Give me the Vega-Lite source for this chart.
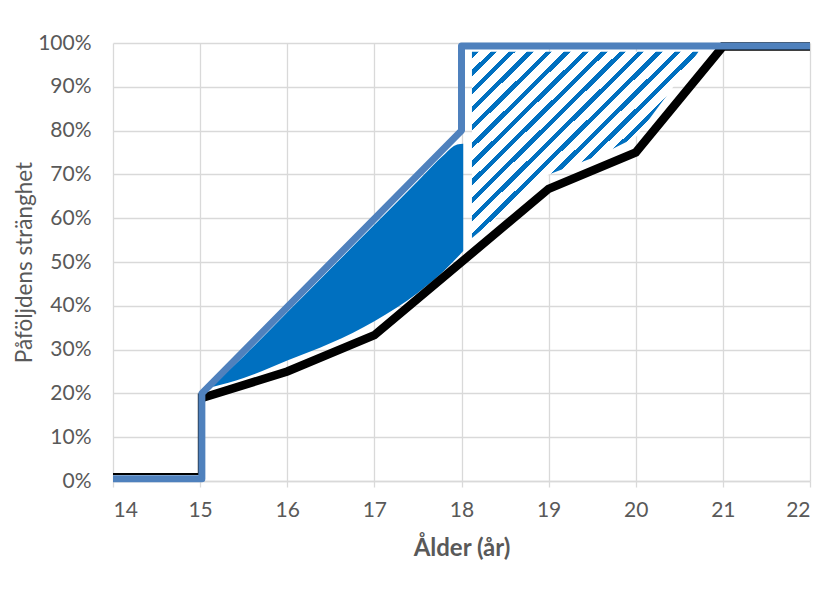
{
  "$schema": "https://vega.github.io/schema/vega-lite/v6.json",
  "width": 697,
  "height": 438,
  "autosize": {"type": "none"},
  "padding": {"left": 113, "top": 43, "right": 22, "bottom": 114},
  "background": "white",
  "config": {"view": {"stroke": null}},
  "datasets": {
    "solid": [
      {"x": 15.15, "lo": 0.215, "hi": 0.22},
      {"x": 15.5, "lo": 0.235, "hi": 0.285},
      {"x": 16, "lo": 0.275, "hi": 0.385},
      {"x": 16.5, "lo": 0.315, "hi": 0.485},
      {"x": 17, "lo": 0.365, "hi": 0.585},
      {"x": 17.5, "lo": 0.43, "hi": 0.685},
      {"x": 17.8, "lo": 0.48, "hi": 0.745},
      {"x": 17.95, "lo": 0.51, "hi": 0.768},
      {"x": 18.02, "lo": 0.525, "hi": 0.77}
    ],
    "hatch": [
      {"x": 18.12, "lo": 0.555, "hi": 0.98},
      {"x": 19.0, "lo": 0.70, "hi": 0.98},
      {"x": 19.6, "lo": 0.745, "hi": 0.98},
      {"x": 20.0, "lo": 0.785, "hi": 0.98},
      {"x": 20.45, "lo": 0.905, "hi": 0.98},
      {"x": 20.72, "lo": 0.98, "hi": 0.98}
    ],
    "blackThin": [
      {"x": 14, "y": 0.016, "o": 0},
      {"x": 14.985, "y": 0.016, "o": 1},
      {"x": 14.985, "y": 0.2, "o": 2}
    ],
    "blackThick": [
      {"x": 15.03, "y": 0.19, "o": 0},
      {"x": 16, "y": 0.25, "o": 1},
      {"x": 17, "y": 0.333, "o": 2},
      {"x": 18, "y": 0.5, "o": 3},
      {"x": 19, "y": 0.667, "o": 4},
      {"x": 20, "y": 0.75, "o": 5},
      {"x": 21, "y": 0.992, "o": 6},
      {"x": 22, "y": 0.992, "o": 7}
    ],
    "blue": [
      {"x": 14, "y": 0.005, "o": 0},
      {"x": 15.02, "y": 0.005, "o": 1},
      {"x": 15.02, "y": 0.2, "o": 2},
      {"x": 18, "y": 0.8, "o": 3},
      {"x": 18, "y": 0.993, "o": 4},
      {"x": 22, "y": 0.993, "o": 5}
    ]
  },
  "encoding": {
    "x": {
      "field": "x", "type": "quantitative",
      "scale": {"domain": [14, 22], "nice": false, "zero": false},
      "axis": {
        "values": [14, 15, 16, 17, 18, 19, 20, 21, 22],
        "format": "d",
        "grid": true, "gridColor": "#d9d9d9", "gridWidth": 1.3,
        "domainColor": "#d9d9d9", "domainWidth": 1.3,
        "tickColor": "#d9d9d9", "tickSize": 6, "tickWidth": 1.3,
        "labelFont": "Lato", "labelFontSize": 21, "labelColor": "#595959", "labelPadding": 12,
        "title": "Ålder (år)", "titleFont": "Lato", "titleFontSize": 24, "titleFontWeight": "bold",
        "titleColor": "#595959", "titlePadding": 16
      }
    }
  },
  "layer": [
    {
      "data": {"name": "solid"},
      "mark": {"type": "area", "color": "#0070c0", "interpolate": "monotone", "opacity": 1},
      "encoding": {
        "y": {"field": "lo", "type": "quantitative", "scale": {"domain": [0, 1], "nice": false},
          "axis": {
            "values": [0, 0.1, 0.2, 0.3, 0.4, 0.5, 0.6, 0.7, 0.8, 0.9, 1],
            "format": ".0%",
            "grid": true, "gridColor": "#d9d9d9", "gridWidth": 1.3,
            "domain": false, "ticks": false,
            "labelFont": "Lato", "labelFontSize": 21, "labelColor": "#595959", "labelPadding": 22,
            "title": "Påföljdens stränghet", "titleFont": "Lato", "titleFontSize": 22.5, "titleFontWeight": "normal",
            "titleColor": "#595959", "titlePadding": 1
          }
        },
        "y2": {"field": "hi"}
      }
    },
    {
      "data": {"name": "hatch"},
      "mark": {
        "type": "area",
        "color": {
          "gradient": "linear", "x1": 0, "y1": 0, "x2": 1.2, "y2": 1,
          "stops": [
            {"offset": 0, "color": "#0070c0"}, {"offset": 0.014, "color": "#0070c0"}, {"offset": 0.014, "color": "#ffffff"},
            {"offset": 0.04, "color": "#ffffff"}, {"offset": 0.04, "color": "#0070c0"}, {"offset": 0.054, "color": "#0070c0"}, {"offset": 0.054, "color": "#ffffff"},
            {"offset": 0.08, "color": "#ffffff"}, {"offset": 0.08, "color": "#0070c0"}, {"offset": 0.094, "color": "#0070c0"}, {"offset": 0.094, "color": "#ffffff"},
            {"offset": 0.12, "color": "#ffffff"}, {"offset": 0.12, "color": "#0070c0"}, {"offset": 0.134, "color": "#0070c0"}, {"offset": 0.134, "color": "#ffffff"},
            {"offset": 0.16, "color": "#ffffff"}, {"offset": 0.16, "color": "#0070c0"}, {"offset": 0.174, "color": "#0070c0"}, {"offset": 0.174, "color": "#ffffff"},
            {"offset": 0.20, "color": "#ffffff"}, {"offset": 0.20, "color": "#0070c0"}, {"offset": 0.214, "color": "#0070c0"}, {"offset": 0.214, "color": "#ffffff"},
            {"offset": 0.24, "color": "#ffffff"}, {"offset": 0.24, "color": "#0070c0"}, {"offset": 0.254, "color": "#0070c0"}, {"offset": 0.254, "color": "#ffffff"},
            {"offset": 0.28, "color": "#ffffff"}, {"offset": 0.28, "color": "#0070c0"}, {"offset": 0.294, "color": "#0070c0"}, {"offset": 0.294, "color": "#ffffff"},
            {"offset": 0.32, "color": "#ffffff"}, {"offset": 0.32, "color": "#0070c0"}, {"offset": 0.334, "color": "#0070c0"}, {"offset": 0.334, "color": "#ffffff"},
            {"offset": 0.36, "color": "#ffffff"}, {"offset": 0.36, "color": "#0070c0"}, {"offset": 0.374, "color": "#0070c0"}, {"offset": 0.374, "color": "#ffffff"},
            {"offset": 0.40, "color": "#ffffff"}, {"offset": 0.40, "color": "#0070c0"}, {"offset": 0.414, "color": "#0070c0"}, {"offset": 0.414, "color": "#ffffff"},
            {"offset": 0.44, "color": "#ffffff"}, {"offset": 0.44, "color": "#0070c0"}, {"offset": 0.454, "color": "#0070c0"}, {"offset": 0.454, "color": "#ffffff"},
            {"offset": 0.48, "color": "#ffffff"}, {"offset": 0.48, "color": "#0070c0"}, {"offset": 0.494, "color": "#0070c0"}, {"offset": 0.494, "color": "#ffffff"},
            {"offset": 0.52, "color": "#ffffff"}, {"offset": 0.52, "color": "#0070c0"}, {"offset": 0.534, "color": "#0070c0"}, {"offset": 0.534, "color": "#ffffff"},
            {"offset": 0.56, "color": "#ffffff"}, {"offset": 0.56, "color": "#0070c0"}, {"offset": 0.574, "color": "#0070c0"}, {"offset": 0.574, "color": "#ffffff"},
            {"offset": 0.60, "color": "#ffffff"}, {"offset": 0.60, "color": "#0070c0"}, {"offset": 0.614, "color": "#0070c0"}, {"offset": 0.614, "color": "#ffffff"},
            {"offset": 0.64, "color": "#ffffff"}, {"offset": 0.64, "color": "#0070c0"}, {"offset": 0.654, "color": "#0070c0"}, {"offset": 0.654, "color": "#ffffff"},
            {"offset": 0.68, "color": "#ffffff"}, {"offset": 0.68, "color": "#0070c0"}, {"offset": 0.694, "color": "#0070c0"}, {"offset": 0.694, "color": "#ffffff"},
            {"offset": 0.72, "color": "#ffffff"}, {"offset": 0.72, "color": "#0070c0"}, {"offset": 0.734, "color": "#0070c0"}, {"offset": 0.734, "color": "#ffffff"},
            {"offset": 0.76, "color": "#ffffff"}, {"offset": 0.76, "color": "#0070c0"}, {"offset": 0.774, "color": "#0070c0"}, {"offset": 0.774, "color": "#ffffff"},
            {"offset": 0.80, "color": "#ffffff"}, {"offset": 0.80, "color": "#0070c0"}, {"offset": 0.814, "color": "#0070c0"}, {"offset": 0.814, "color": "#ffffff"},
            {"offset": 0.84, "color": "#ffffff"}, {"offset": 0.84, "color": "#0070c0"}, {"offset": 0.854, "color": "#0070c0"}, {"offset": 0.854, "color": "#ffffff"},
            {"offset": 0.88, "color": "#ffffff"}, {"offset": 0.88, "color": "#0070c0"}, {"offset": 0.894, "color": "#0070c0"}, {"offset": 0.894, "color": "#ffffff"},
            {"offset": 0.92, "color": "#ffffff"}, {"offset": 0.92, "color": "#0070c0"}, {"offset": 0.934, "color": "#0070c0"}, {"offset": 0.934, "color": "#ffffff"},
            {"offset": 0.96, "color": "#ffffff"}, {"offset": 0.96, "color": "#0070c0"}, {"offset": 0.974, "color": "#0070c0"}, {"offset": 0.974, "color": "#ffffff"},
            {"offset": 1, "color": "#ffffff"}
          ]
        },
        "opacity": 1
      },
      "encoding": {
        "y": {"field": "lo", "type": "quantitative"},
        "y2": {"field": "hi"}
      }
    },
    {
      "data": {"name": "blackThin"},
      "mark": {"type": "line", "color": "#000000", "strokeWidth": 2, "strokeJoin": "round"},
      "encoding": {
        "y": {"field": "y", "type": "quantitative"},
        "order": {"field": "o", "type": "quantitative"}
      }
    },
    {
      "data": {"name": "blackThick"},
      "mark": {"type": "line", "color": "#000000", "strokeWidth": 8.5, "strokeJoin": "miter"},
      "encoding": {
        "y": {"field": "y", "type": "quantitative"},
        "order": {"field": "o", "type": "quantitative"}
      }
    },
    {
      "data": {"name": "blue"},
      "mark": {"type": "line", "color": "#4f81bd", "strokeWidth": 7, "strokeJoin": "round"},
      "encoding": {
        "y": {"field": "y", "type": "quantitative"},
        "order": {"field": "o", "type": "quantitative"}
      }
    }
  ]
}
